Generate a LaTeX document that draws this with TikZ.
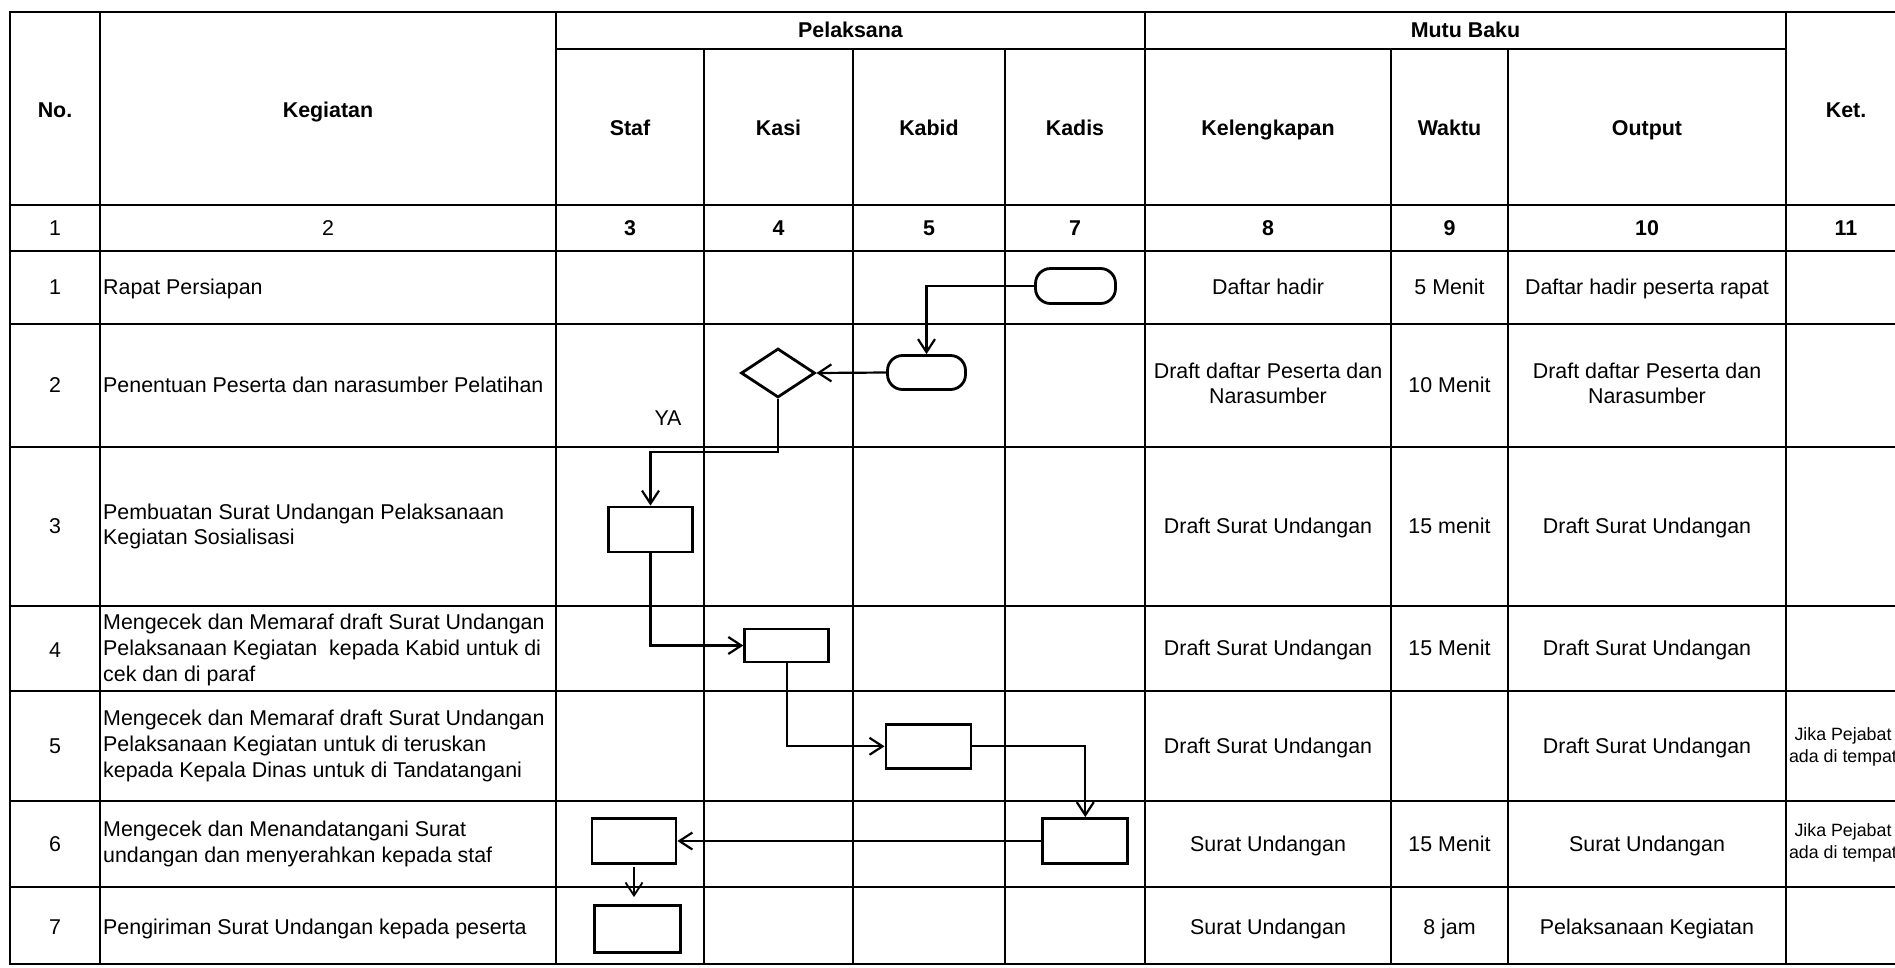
\documentclass[tikz,border=0pt]{standalone}
\usepackage{fontspec}
\setmainfont{Liberation Sans}
\usetikzlibrary{shapes.geometric,arrows.meta}
\newcommand\cellstrut{\rule[-0.21em]{0pt}{1.117em}}

\begin{document}
\begin{tikzpicture}[x=1pt,y=-1pt,
  cell/.style={inner sep=0pt,font=\fontsize{21.4}{25.7}\selectfont,
    execute at begin node=\cellstrut,execute at end node=\cellstrut},
  head/.style={cell,font=\fontsize{21.4}{25.7}\selectfont\bfseries},
  small/.style={cell,font=\fontsize{17.8}{21.6}\selectfont,align=center},
  grid/.style={line width=1.8pt},
  box/.style={draw,line width=2.8pt,inner sep=0pt},
  term/.style={box,rounded corners=15pt},
  dec/.style={draw,diamond,line width=2.8pt,inner sep=0pt,minimum width=74pt,minimum height=49pt},
  flow/.style={line width=2.2pt,-{Straight Barb[length=13pt,width=17pt]}}]
\useasboundingbox (0,0) rectangle (1895,967);
\clip (0,0) rectangle (1895,967);
\fill[white] (0,0) rectangle (1895,967);

\draw[grid] (1895,12) -- (10,12) -- (10,964) -- (1895,964);
\draw[grid] (556,49) -- (1786,49);
\draw[grid] (10,205) -- (1895,205);
\draw[grid] (10,251) -- (1895,251);
\draw[grid] (10,324) -- (1895,324);
\draw[grid] (10,447) -- (1895,447);
\draw[grid] (10,606) -- (1895,606);
\draw[grid] (10,691) -- (1895,691);
\draw[grid] (10,801) -- (1895,801);
\draw[grid] (10,887) -- (1895,887);
\draw[grid] (100,12) -- (100,964);
\draw[grid] (556,12) -- (556,964);
\draw[grid] (704,49) -- (704,964);
\draw[grid] (853,49) -- (853,964);
\draw[grid] (1005,49) -- (1005,964);
\draw[grid] (1145,12) -- (1145,964);
\draw[grid] (1391,49) -- (1391,964);
\draw[grid] (1508,49) -- (1508,964);
\draw[grid] (1786,12) -- (1786,964);

\node[head] (hno) at (55,110) {No.};
\node[head] (hkeg) at (328,110) {Kegiatan};
\node[head] (hpel) at (850.5,30) {Pelaksana};
\node[head] (hmutu) at (1465.5,30) {Mutu Baku};
\node[head] (hket) at (1846,110) {Ket.};
\node[head] (hstaf) at (630,128) {Staf};
\node[head] (hkasi) at (778.5,128) {Kasi};
\node[head] (hkabid) at (929,128) {Kabid};
\node[head] (hkadis) at (1075,128) {Kadis};
\node[head] (hkel) at (1268,128) {Kelengkapan};
\node[head] (hwaktu) at (1449.5,128) {Waktu};
\node[head] (hout) at (1647,128) {Output};

\node[cell] (c1) at (55,228) {1};
\node[cell] (c2) at (328,228) {2};
\node[head] (c3) at (630,228) {3};
\node[head] (c4) at (778.5,228) {4};
\node[head] (c5) at (929,228) {5};
\node[head] (c7) at (1075,228) {7};
\node[head] (c8) at (1268,228) {8};
\node[head] (c9) at (1449.5,228) {9};
\node[head] (c10) at (1647,228) {10};
\node[head] (c11) at (1846,228) {11};

\node[cell] (no1) at (55,287.5) {1};
\node[cell] (no2) at (55,385.5) {2};
\node[cell] (no3) at (55,526.5) {3};
\node[cell] (no4) at (55,650) {4};
\node[cell] (no5) at (55,746) {5};
\node[cell] (no6) at (55,844) {6};
\node[cell] (no7) at (55,927) {7};

\node[cell,anchor=west,align=left] (keg1) at (103,287.5) {Rapat Persiapan};
\node[cell,anchor=west,align=left] (keg2) at (103,385.5) {Penentuan Peserta dan narasumber Pelatihan};
\node[cell,anchor=west,align=left] (keg3) at (103,526.5) {Pembuatan Surat Undangan Pelaksanaan\\Kegiatan Sosialisasi};
\node[cell,anchor=west,align=left] (keg4) at (103,650) {Mengecek dan Memaraf draft Surat Undangan\\Pelaksanaan Kegiatan\ \ kepada Kabid untuk di\\cek dan di paraf};
\node[cell,anchor=west,align=left] (keg5) at (103,746) {Mengecek dan Memaraf draft Surat Undangan\\Pelaksanaan Kegiatan untuk di teruskan\\kepada Kepala Dinas untuk di Tandatangani};
\node[cell,anchor=west,align=left] (keg6) at (103,844) {Mengecek dan Menandatangani Surat\\undangan dan menyerahkan kepada staf};
\node[cell,anchor=west,align=left] (keg7) at (103,927) {Pengiriman Surat Undangan kepada peserta};

\node[cell,align=center] (kel1) at (1268,287.5) {Daftar hadir};
\node[cell,align=center] (kel2) at (1268,385.5) {Draft daftar Peserta dan\\Narasumber};
\node[cell,align=center] (kel3) at (1268,526.5) {Draft Surat Undangan};
\node[cell,align=center] (kel4) at (1268,648.5) {Draft Surat Undangan};
\node[cell,align=center] (kel5) at (1268,746) {Draft Surat Undangan};
\node[cell,align=center] (kel6) at (1268,844) {Surat Undangan};
\node[cell,align=center] (kel7) at (1268,927) {Surat Undangan};

\node[cell] (wkt1) at (1449.5,287.5) {5 Menit};
\node[cell] (wkt2) at (1449.5,385.5) {10 Menit};
\node[cell] (wkt3) at (1449.5,526.5) {15 menit};
\node[cell] (wkt4) at (1449.5,648.5) {15 Menit};
\node[cell] (wkt6) at (1449.5,844) {15 Menit};
\node[cell] (wkt7) at (1449.5,927) {8 jam};

\node[cell,align=center] (out1) at (1647,287.5) {Daftar hadir peserta rapat};
\node[cell,align=center] (out2) at (1647,385.5) {Draft daftar Peserta dan\\Narasumber};
\node[cell,align=center] (out3) at (1647,526.5) {Draft Surat Undangan};
\node[cell,align=center] (out4) at (1647,648.5) {Draft Surat Undangan};
\node[cell,align=center] (out5) at (1647,746) {Draft Surat Undangan};
\node[cell,align=center] (out6) at (1647,844) {Surat Undangan};
\node[cell,align=center] (out7) at (1647,927) {Pelaksanaan Kegiatan};

\node[small] (ket5) at (1843,747) {Jika Pejabat\\ada di tempat};
\node[small] (ket6) at (1843,843) {Jika Pejabat\\ada di tempat};

\node[term,minimum width=80pt,minimum height=35pt] (t1) at (1075.5,286) {};
\node[term,minimum width=78pt,minimum height=34pt] (t2) at (926.5,372.5) {};
\node[dec] (d1) at (778,373) {};
\node[cell] (ya) at (668,418) {YA};
\node[box,minimum width=84pt,minimum height=45pt] (b3) at (650.5,529.5) {};
\node[box,minimum width=84pt,minimum height=33pt] (b4) at (786.7,645.5) {};
\node[box,minimum width=85pt,minimum height=44pt] (b5) at (928.4,746.3) {};
\node[box,minimum width=85pt,minimum height=45pt] (b6k) at (1085.3,841) {};
\node[box,minimum width=84pt,minimum height=45pt] (b6s) at (634,841) {};
\node[box,minimum width=86pt,minimum height=47pt] (b7) at (637.7,929) {};

\draw[flow] (t1.west) -| (t2.north);
\draw[flow] (t2.west) -- (d1.east);
\draw[flow] (d1.south) -- ++(0,53) -| (b3.north);
\draw[flow] (b3.south) |- (b4.west);
\draw[flow] (b4.south) |- (b5.west);
\draw[flow] (b5.east) -| (b6k.north);
\draw[flow] (b6k.west) -- (b6s.east);
\draw[flow,line width=1.8pt,shorten <=2pt,shorten >=7pt] (b6s.south) -- (b6s.south |- b7.north);
\end{tikzpicture}
\end{document}
